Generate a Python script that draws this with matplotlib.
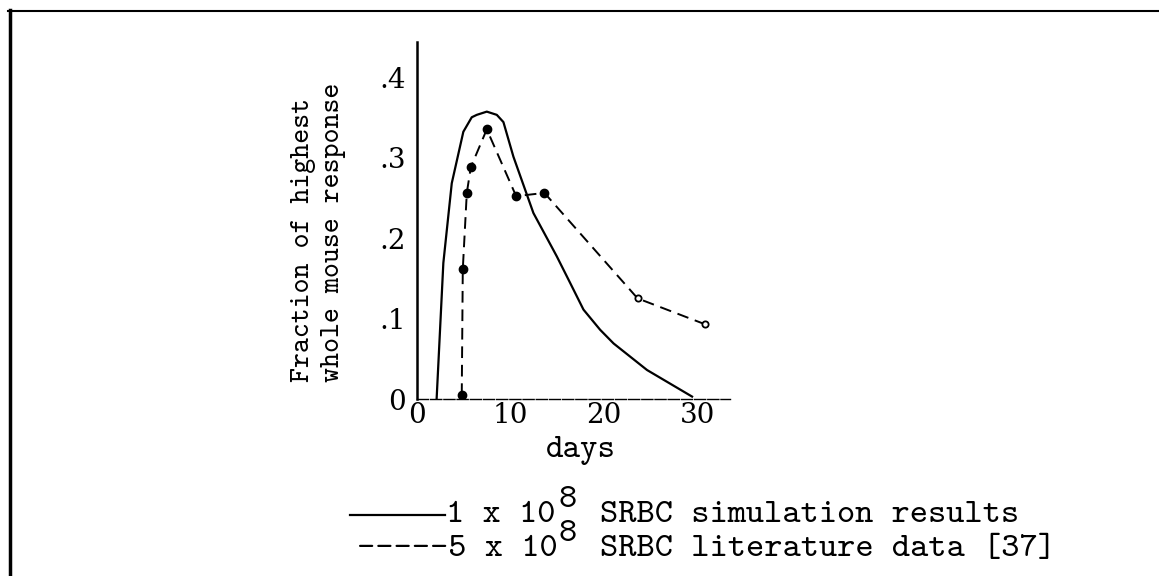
import matplotlib
matplotlib.use("Agg")
import matplotlib.pyplot as plt
from matplotlib.lines import Line2D

# typewriter look: Computer Modern Typewriter ships with matplotlib
plt.rcParams['font.family'] = ['cmtt10', 'DejaVu Serif']
plt.rcParams['axes.unicode_minus'] = False
NUMFONT = ['DejaVu Serif']

# simulation curve (1 x 10^8 SRBC)
sim_days = [2.1, 2.82, 3.72, 4.96, 5.86, 6.4, 7.47, 8.54, 9.25, 10.32, 12.46,
            14.6, 14.97, 16.4, 17.82, 19.6, 21.04, 24.62, 29.44]
sim_vals = [0.0, 0.169, 0.268, 0.332, 0.350, 0.353, 0.357, 0.353, 0.344, 0.301, 0.231,
            0.185, 0.177, 0.144, 0.111, 0.086, 0.069, 0.036, 0.003]

# literature data (5 x 10^8 SRBC)
lit_days = [4.79, 4.90, 5.33, 5.76, 7.47, 10.61, 13.64, 23.61, 30.79]
lit_vals = [0.005, 0.161, 0.256, 0.288, 0.335, 0.252, 0.256, 0.125, 0.093]
lit_open = [False, False, False, False, False, False, False, True, True]

xticks = [0, 10, 20, 30]
yticks = [0, 0.1, 0.2, 0.3, 0.4]
ytick_labels = ['0', '.1', '.2', '.3', '.4']

W, H = 1159, 576
fig = plt.figure(figsize=(W / 100, H / 100), dpi=100)


def fx(px):
    return px / W


def fy(py):
    return 1 - py / H


ax = fig.add_axes([fx(417), fy(399), (730 - 417) / W, (399 - 42) / H])
ax.set_xlim(0, 33.5)
ax.set_ylim(0, 0.4435)

ax.plot(sim_days, sim_vals, color='black', lw=1.6, solid_joinstyle='round')
ax.plot(lit_days, lit_vals, color='black', lw=1.4, linestyle=(0, (6, 3.5)))
for d, v, o in zip(lit_days, lit_vals, lit_open):
    if o:
        ax.plot(d, v, 'o', ms=4.5, mfc='white', mec='black', mew=1.3)
    else:
        ax.plot(d, v, 'o', ms=6, color='black')

for s in ['top', 'right']:
    ax.spines[s].set_visible(False)
ax.spines['left'].set_linewidth(1.8)
ax.spines['bottom'].set_linewidth(1.0)
ax.spines['bottom'].set_linestyle((0, (8, 1.5)))

ax.set_xticks(xticks)
ax.set_xticklabels([str(t) for t in xticks], family=NUMFONT)
ax.set_yticks(yticks)
ax.set_yticklabels(ytick_labels, family=NUMFONT)
ax.tick_params(axis='both', length=0, labelsize=20)
ax.tick_params(axis='y', pad=8)
ax.tick_params(axis='x', pad=2)

ax.set_xlabel('days', fontsize=24)
ax.xaxis.set_label_coords((581 - 417) / 313, -0.105)

fig.text(fx(303), fy(240), 'Fraction of highest', rotation=90,
         ha='center', va='center', fontsize=20.5)
fig.text(fx(334), fy(232), 'whole mouse response', rotation=90,
         ha='center', va='center', fontsize=20.5)

# legend drawn as typed lines
fs = 25
fig.add_artist(Line2D([fx(350), fx(445)], [fy(515), fy(515)], color='black', lw=1.6))
fig.text(fx(446), fy(522), '1 x 10', fontsize=fs, va='baseline')
fig.text(fx(558), fy(507), '8', fontsize=fs, va='baseline')
fig.text(fx(600), fy(522), 'SRBC simulation results', fontsize=fs, va='baseline')
fig.text(fx(357), fy(556), '-----5 x 10', fontsize=fs, va='baseline')
fig.text(fx(558), fy(541), '8', fontsize=fs, va='baseline')
fig.text(fx(600), fy(556), 'SRBC literature data [37]', fontsize=fs, va='baseline')

# scanned page border
fig.add_artist(Line2D([fx(8), fx(1159)], [fy(11), fy(11)], color='black', lw=1.5))
fig.add_artist(Line2D([fx(10), fx(10)], [fy(10), fy(576)], color='black', lw=2.5))

fig.savefig('out.png', dpi=100, facecolor='white')
